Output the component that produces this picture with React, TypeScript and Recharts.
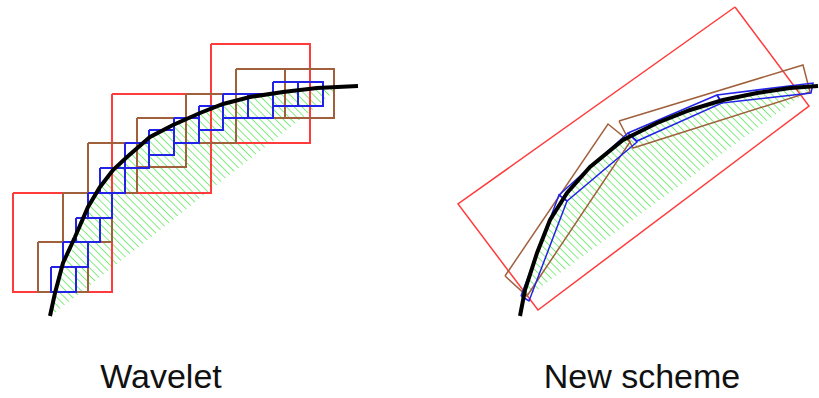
import { ComposedChart, Line, Area, XAxis, YAxis } from 'recharts';

// Diagram coordinates (x to the right, y downwards on a reversed axis)

// Left panel: "Wavelet"
const waveletCurve = [
  [50, 316], [55, 293], [63, 263], [75, 237], [88, 207], [100, 187], [113, 170], [127, 157],
  [150, 137], [173, 125], [200, 113], [223, 104], [250, 97], [283, 92], [317, 88], [358, 86],
];
// hatched zone: curve on top, chord underneath
const waveletHatchX = [52, 55, 63, 75, 88, 100, 113, 127, 150, 173, 200, 223, 250, 283, 317, 337];
const waveletHatchTop = [315, 293, 263, 237, 207, 187, 170, 157, 137, 125, 113, 104, 97, 92, 88, 87];
const waveletHatchBottom = [315, 313, 306, 297, 287, 277, 267, 256, 238, 220, 198, 180, 159, 133, 106, 89];

// squares as [left, top, right, bottom]
const redSquares = [
  [13, 193, 112, 292], [112, 94, 211, 193], [211, 44, 310, 143],
];
const brownSquares = [
  [38, 242, 88, 292], [63, 193, 112, 242], [88, 143, 137, 193], [137, 118, 186, 167],
  [186, 94, 236, 143], [236, 69, 285, 118], [285, 69, 334, 118],
];
const blueSquares = [
  [51, 267, 76, 292], [63, 242, 88, 267], [76, 218, 100, 242], [88, 193, 112, 218],
  [100, 168, 125, 193], [125, 143, 149, 168], [149, 130, 174, 155], [174, 118, 199, 143],
  [199, 106, 223, 130], [223, 94, 248, 118], [248, 94, 273, 118], [273, 82, 298, 106],
  [298, 82, 323, 106],
];

// Right panel: "New scheme"
const schemeCurve = [
  [520, 316], [525, 290], [537, 253], [550, 220], [567, 193], [590, 167], [623, 140],
  [657, 123], [690, 110], [723, 100], [757, 93], [790, 88], [818, 86],
];
const schemeHatchX = [523, 525, 537, 550, 567, 590, 623, 657, 690, 723, 757, 790, 812];
const schemeHatchTop = [300, 290, 253, 220, 193, 167, 140, 123, 110, 100, 93, 88, 87];
const schemeHatchBottom = [300, 298, 290, 280, 268, 251, 227, 202, 178, 153, 128, 104, 88];

// rotated boxes as corner lists
const redBoxes = [
  [[735, 7], [809, 106], [538, 310], [458, 204]],
];
const brownBoxes = [
  [[505, 276], [608, 124], [630, 142], [527, 296]],
  [[619, 121], [803, 65], [810, 92], [633, 148]],
];
const blueBoxes = [
  [[521, 296], [559, 195], [567, 201], [529, 301]],
  [[559, 195], [628, 133], [637, 142], [567, 201]],
  [[628, 133], [717, 95], [722, 103], [637, 141]],
  [[717, 95], [813, 83], [811, 93], [722, 103]],
];

const toPts = (list: number[][]) => list.map(([x, y]) => ({ x, y }));
const square = ([l, t, r, b]: number[]) => toPts([[l, t], [r, t], [r, b], [l, b], [l, t]]);
const closed = (corners: number[][]) => toPts([...corners, corners[0]]);
const hatch = (xs: number[], top: number[], bottom: number[]) =>
  xs.map((x, i) => ({ x, band: [bottom[i], top[i]] }));

const outline = (pts: { x: number; y: number }[], color: string, w: number, key: string) => (
  <Line
    key={key}
    data={pts}
    dataKey="y"
    type="linear"
    stroke={color}
    strokeWidth={w}
    dot={false}
    activeDot={false}
    isAnimationActive={false}
  />
);

const RED = '#ff3b3b';
const BROWN = '#a0603c';
const BLUE = '#2323e8';

const labelStyle: React.CSSProperties = {
  position: 'absolute',
  top: 359,
  width: 300,
  textAlign: 'center',
  fontFamily: '"Liberation Sans", Arial, sans-serif',
  fontSize: 34,
  lineHeight: '34px',
  color: '#111',
};

export default function App() {
  return (
    <div style={{ position: 'absolute', left: 0, top: 0, width: 819, height: 398, background: '#fff' }}>
      <ComposedChart width={819} height={398} margin={{ top: 0, right: 0, bottom: 0, left: 0 }}>
        <defs>
          <pattern id="hatch" patternUnits="userSpaceOnUse" width="5.5" height="5.5" patternTransform="rotate(-45)">
            <line x1="0" y1="0" x2="0" y2="5.5" stroke="#4be84b" strokeWidth="1.4" />
          </pattern>
        </defs>
        <XAxis type="number" dataKey="x" domain={[0, 819]} hide allowDataOverflow />
        <YAxis type="number" domain={[0, 398]} reversed hide allowDataOverflow />

        <Area
          data={hatch(waveletHatchX, waveletHatchTop, waveletHatchBottom)}
          dataKey="band"
          type="monotone"
          stroke="none"
          fill="url(#hatch)"
          fillOpacity={1}
          dot={false}
          activeDot={false}
          isAnimationActive={false}
        />
        <Area
          data={hatch(schemeHatchX, schemeHatchTop, schemeHatchBottom)}
          dataKey="band"
          type="monotone"
          stroke="none"
          fill="url(#hatch)"
          fillOpacity={1}
          dot={false}
          activeDot={false}
          isAnimationActive={false}
        />

        {redSquares.map((s, i) => outline(square(s), RED, 2, `rs${i}`))}
        {brownSquares.map((s, i) => outline(square(s), BROWN, 2, `bs${i}`))}
        {blueSquares.map((s, i) => outline(square(s), BLUE, 2, `us${i}`))}

        {redBoxes.map((b, i) => outline(closed(b), RED, 1.5, `rb${i}`))}
        {brownBoxes.map((b, i) => outline(closed(b), BROWN, 1.5, `bb${i}`))}
        {blueBoxes.map((b, i) => outline(closed(b), BLUE, 1.5, `ub${i}`))}

        {outline(toPts(waveletCurve), '#000', 4, 'wc')}
        {outline(toPts(schemeCurve), '#000', 4, 'sc')}
      </ComposedChart>
      <div style={{ ...labelStyle, left: 11 }}>Wavelet</div>
      <div style={{ ...labelStyle, left: 492 }}>New scheme</div>
    </div>
  );
}
